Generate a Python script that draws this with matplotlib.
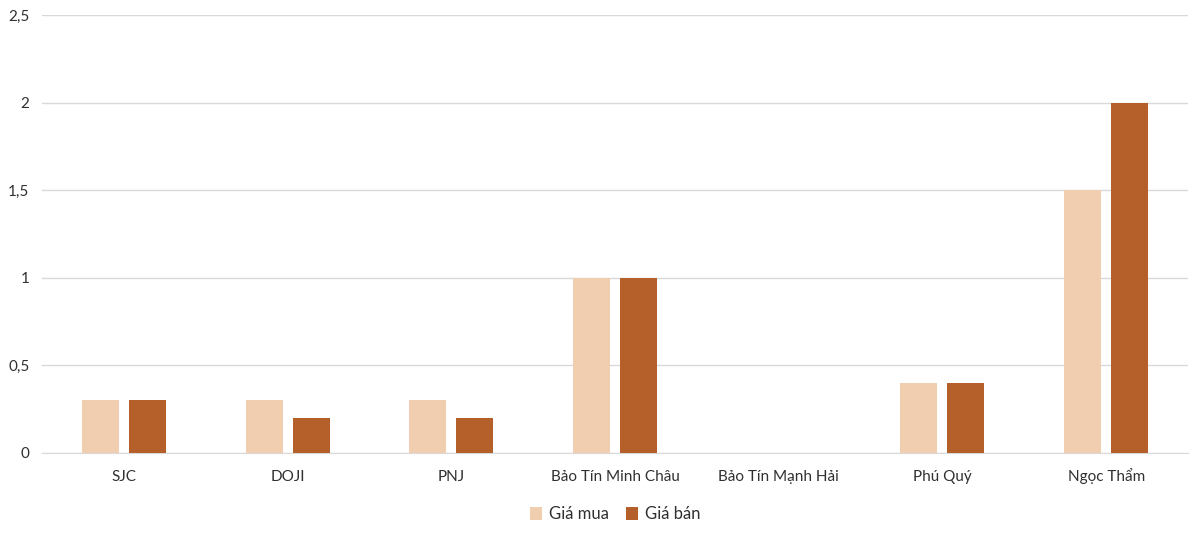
import matplotlib.pyplot as plt
import numpy as np

plt.rcParams['font.family'] = ['Lato', 'DejaVu Sans']

# data
categories = ['SJC', 'DOJI', 'PNJ', 'Bảo Tín Minh Châu', 'Bảo Tín Mạnh Hải', 'Phú Quý', 'Ngọc Thẩm']
gia_mua = [0.3, 0.3, 0.3, 1.0, 0.0, 0.4, 1.5]
gia_ban = [0.3, 0.2, 0.2, 1.0, 0.0, 0.4, 2.0]
yticks = [0, 0.5, 1, 1.5, 2, 2.5]
ytick_labels = ['0', '0,5', '1', '1,5', '2', '2,5']

fig = plt.figure(figsize=(12, 5.35), dpi=100)
ax = fig.add_axes([42 / 1200, 1 - 453 / 535, 1146 / 1200, 438 / 535])

x = np.arange(len(categories))
w = 0.226
off = 0.1435
ax.bar(x - off, gia_mua, w, color='#F2CEB0', label='Giá mua', zorder=3)
ax.bar(x + off, gia_ban, w, color='#B5602A', label='Giá bán', zorder=3)

ax.set_xlim(-0.5, len(categories) - 0.5)
ax.set_ylim(0, 2.5)
ax.set_yticks(yticks)
ax.set_yticklabels(ytick_labels)
ax.set_xticks(x)
ax.set_xticklabels(categories, va='baseline')
ax.yaxis.grid(True, color='#D9D9D9', linewidth=1, zorder=0)
ax.tick_params(axis='both', length=0, labelsize=11, colors='#303030')
ax.tick_params(axis='y', pad=9)
ax.tick_params(axis='x', pad=20)
for s in ['top', 'right', 'left']:
    ax.spines[s].set_visible(False)
ax.spines['bottom'].set_color('#D9D9D9')

leg = ax.legend(loc='center', bbox_to_anchor=(0.5, -0.14), ncol=2, frameon=False,
                fontsize=12, handlelength=0.75, handleheight=0.75, columnspacing=1.0,
                handletextpad=0.4)
for t in leg.get_texts():
    t.set_color('#303030')

plt.savefig('out.png', dpi=100)
